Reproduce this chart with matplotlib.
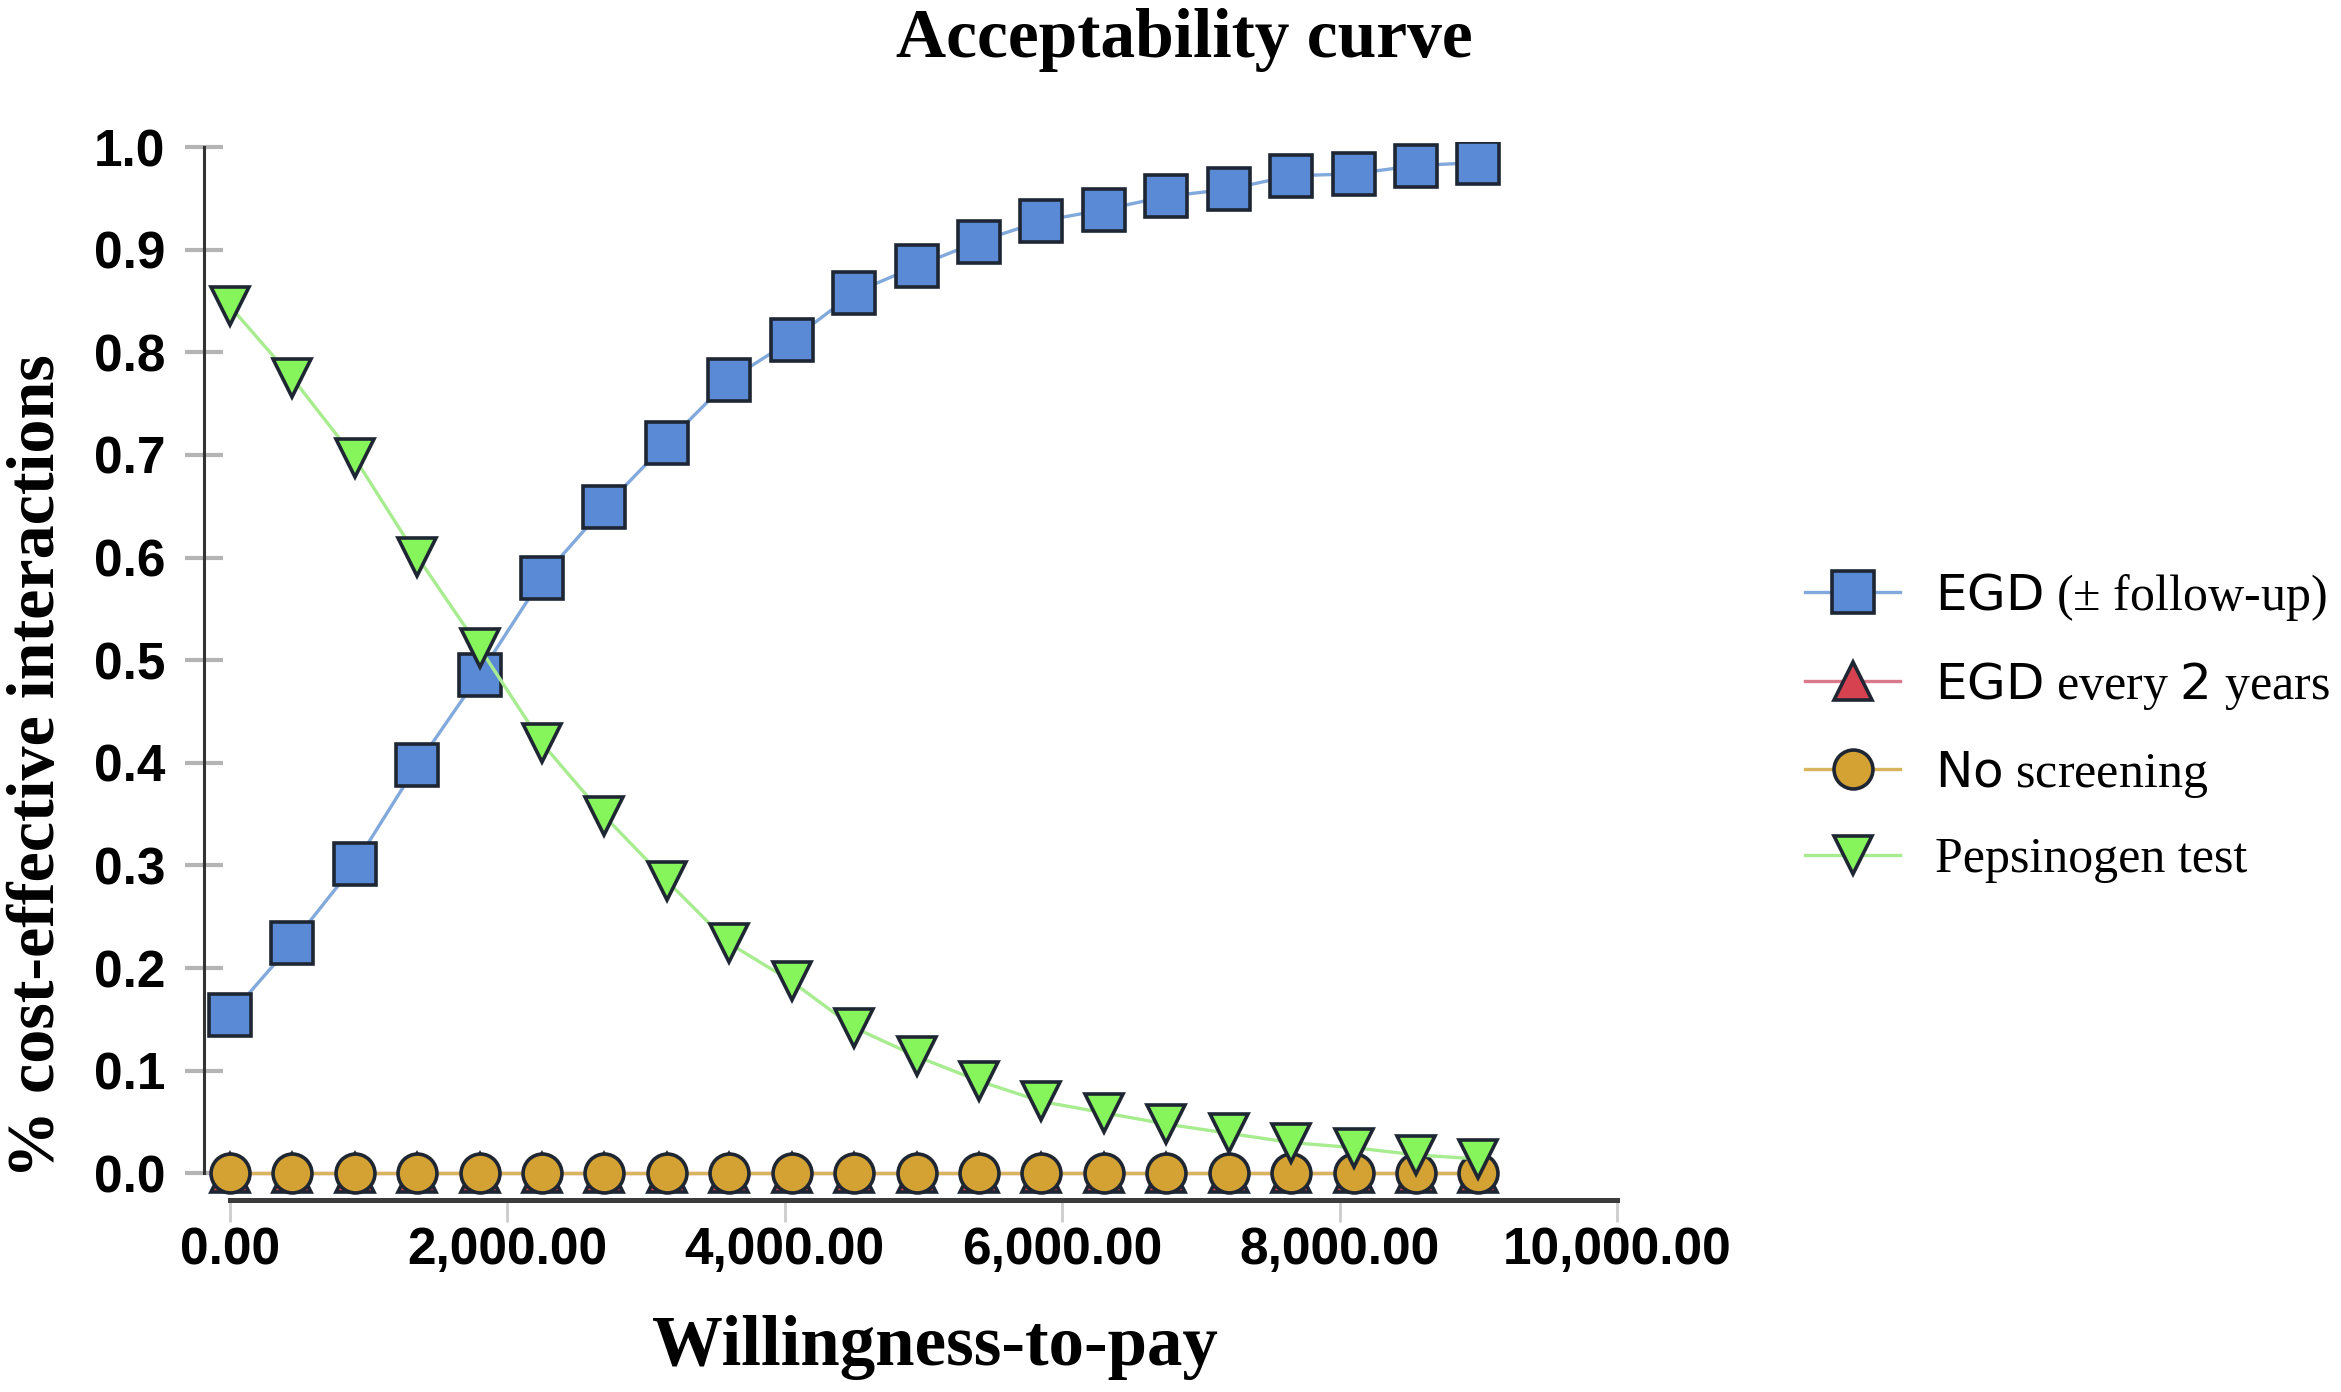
import matplotlib
matplotlib.use('Agg')
import matplotlib.pyplot as plt
import numpy as np

# willingness-to-pay grid
wtp = [0, 450, 900, 1350, 1800, 2250, 2700, 3150, 3600, 4050, 4500,
       4950, 5400, 5850, 6300, 6750, 7200, 7650, 8100, 8550, 9000]

egd_followup = [0.154, 0.224, 0.301, 0.398, 0.486, 0.580, 0.649, 0.712, 0.773, 0.812, 0.858,
                0.884, 0.908, 0.928, 0.939, 0.952, 0.959, 0.972, 0.974, 0.982, 0.985]
egd_2years = [0.0] * 21
no_screening = [0.0] * 21
pepsinogen = [0.845, 0.775, 0.697, 0.601, 0.512, 0.419, 0.348, 0.285, 0.224, 0.187, 0.142,
              0.114, 0.090, 0.070, 0.059, 0.048, 0.039, 0.030, 0.025, 0.018, 0.014]

labels = [r'$\mathsf{EGD}$ (± follow-up)', r'$\mathsf{EGD}$ every $\mathsf{2}$ years',
          r'$\mathsf{No}$ screening', 'Pepsinogen test']

xticks = [0, 2000, 4000, 6000, 8000, 10000]
yticks = [0.0, 0.1, 0.2, 0.3, 0.4, 0.5, 0.6, 0.7, 0.8, 0.9, 1.0]

SERIF = ['Liberation Serif', 'DejaVu Serif']
SANS = ['Liberation Sans', 'DejaVu Sans']

W, H = 2341, 1392
fig = plt.figure(figsize=(W / 100, H / 100), dpi=100)
ax = fig.add_axes([204 / W, 1 - 1200 / H, 1420 / W, 1058 / H])

edge = '#1f2633'
style = dict(markeredgecolor=edge, markeredgewidth=2.6, linewidth=2.4)
ax.plot(wtp, egd_followup, marker='s', ms=30, color='#82a9dc', markerfacecolor='#5a8ad6',
        label=labels[0], **style)
ax.plot(wtp, egd_2years, marker='^', ms=28, color='#d97a8c', markerfacecolor='#d6424f',
        label=labels[1], **style)
ax.plot(wtp, no_screening, marker='o', ms=28, color='#d8b45c', markerfacecolor='#d4a233',
        label=labels[2], **style)
ax.plot(wtp, pepsinogen, marker='v', ms=28, color='#a8ec90', markerfacecolor='#86f55c',
        label=labels[3], **style)

ax.set_xlim(-187, 10050)
ax.set_ylim(-0.026, 1.005)

for s in ['top', 'right']:
    ax.spines[s].set_visible(False)
ax.spines['left'].set_bounds(0.0, 1.0)
ax.spines['left'].set_color('#333333')
ax.spines['left'].set_linewidth(2.2)
ax.spines['bottom'].set_bounds(0, 10000)
ax.spines['bottom'].set_color('#3c3c3c')
ax.spines['bottom'].set_linewidth(3.6)

ax.set_yticks(yticks)
ax.set_yticklabels(['%.1f' % v for v in yticks])
ax.set_xticks(xticks)
ax.set_xticklabels(['{:,.2f}'.format(v) for v in xticks])
ax.tick_params(axis='y', direction='inout', length=28, width=3, color='#b4b4b4', pad=14)
ax.tick_params(axis='x', direction='out', length=16, width=2, color='#cccccc', pad=3)
for t in ax.get_xticklabels() + ax.get_yticklabels():
    t.set_fontfamily(SANS)
    t.set_fontsize(37)
    t.set_fontweight('bold')

ax.set_xlabel('Willingness-to-pay', fontfamily=SERIF, fontsize=51, fontweight='bold')
ax.xaxis.label.set_va('baseline')
ax.xaxis.set_label_coords(0.515, -0.156)
ax.set_ylabel('% cost-effective interactions', fontfamily=SERIF, fontsize=49, fontweight='bold')
ax.yaxis.label.set_va('center')
ax.yaxis.set_label_coords(-0.1176, 0.41)

fig.text(0.506, 1 - 57 / H, 'Acceptability curve', ha='center', va='baseline',
         fontfamily=SERIF, fontsize=50, fontweight='bold')

leg = fig.legend(loc='center left', bbox_to_anchor=(1805 / W, 1 - 727 / H),
                 frameon=False, borderpad=0, borderaxespad=0,
                 handlelength=1.9, handletextpad=0.7, labelspacing=0.74,
                 prop={'family': SERIF, 'size': 36})

fig.savefig('out.png', dpi=100, facecolor='white')
